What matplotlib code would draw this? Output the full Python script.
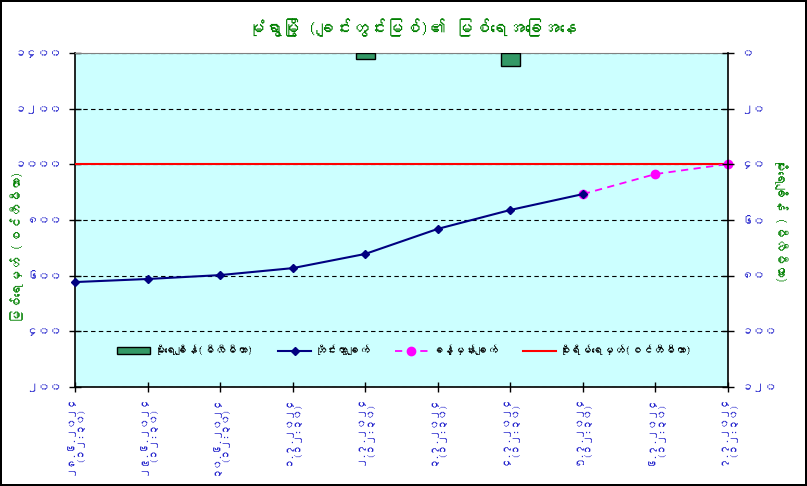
import matplotlib
matplotlib.use("Agg")
import matplotlib.pyplot as plt
import numpy as np
from matplotlib import font_manager
from matplotlib.ft2font import FT2Font
from matplotlib.lines import Line2D
from matplotlib.patches import Patch

# ── data ─────────────────────────────────────────────────────────────────────
DATES = ["၂၈.၆.၂၀၂၄", "၂၉.၆.၂၀၂၄", "၃၀.၆.၂၀၂၄", "၁.၇.၂၀၂၄", "၂.၇.၂၀၂၄",
         "၃.၇.၂၀၂၄", "၄.၇.၂၀၂၄", "၅.၇.၂၀၂၄", "၆.၇.၂၀၂၄", "၇.၇.၂၀၂၄"]
TIME_LABEL = "(၁၂:၃၀)"

observed = [577, 588, 602, 627, 678, 768, 836, 893, None, None]   # cm
forecast = [None, None, None, None, None, None, None, 893, 965, 1001]
rainfall = [0, 0, 0, 0, 2.2, 0, 4.5, 0, 0, 0]                      # mm
DANGER = 1000

LEFT_TICKS = [200, 400, 600, 800, 1000, 1200, 1400]
LEFT_TICK_LABELS = ["၂၀၀", "၄၀၀", "၆၀၀", "၈၀၀", "၁၀၀၀", "၁၂၀၀", "၁၄၀၀"]
RIGHT_TICKS = [0, 20, 40, 60, 80, 100, 120]
RIGHT_TICK_LABELS = ["၀", "၂၀", "၄၀", "၆၀", "၈၀", "၁၀၀", "၁၂၀"]

TITLE = "မုံရွာမြို့ (ချင်းတွင်းမြစ်)၏ မြစ်ရေအခြေအနေ"
LEFT_LABEL = "မြစ်ရေမှတ် (စင်တီမီတာ)"
RIGHT_LABEL = "မိုးရေချိန် (မီလီမီတာ)"
LEGEND_LABELS = ["မိုးရေချိန်(မီလီမီတာ)", "တိုင်းထွာချက်", "ခန့်မှန်းချက်",
                 "စိုးရိမ်ရေမှတ်(စင်တီမီတာ)"]

# ── fonts: use any installed font that has Myanmar glyphs ───────────────────
def find_myanmar_font():
    for f in font_manager.fontManager.ttflist:
        try:
            cmap = FT2Font(f.fname).get_charmap()
        except Exception:
            continue
        if 0x1019 in cmap and 0x1000 in cmap:
            return f.name
    return None

mm_font = find_myanmar_font()
FAMILY = [mm_font, "DejaVu Sans"] if mm_font else ["DejaVu Sans"]
plt.rcParams["font.family"] = FAMILY

BLUE = "#2222CC"
GREEN = "#008000"

# ── figure ───────────────────────────────────────────────────────────────────
fig = plt.figure(figsize=(8.07, 4.86), dpi=100)
fig.patch.set_facecolor("white")
fig.patch.set_edgecolor("black")
fig.patch.set_linewidth(1.5)

ax = fig.add_axes([0.0929, 0.2037, 0.8092, 0.6873])
ax.set_facecolor("#CCFFFF")
x = np.arange(len(DATES))

ax.set_xlim(0, len(DATES) - 1)
ax.set_ylim(200, 1400)
ax.set_yticks(LEFT_TICKS)
ax.set_yticklabels(LEFT_TICK_LABELS, color=BLUE, fontsize=8.5,
                   fontweight="bold")
ax.yaxis.grid(True, color="black", linestyle=(0, (4, 3)), linewidth=0.8)
ax.set_axisbelow(True)

ax.axhline(DANGER, color="#FF0000", linewidth=1.5, zorder=3)

obs = np.array([np.nan if v is None else v for v in observed], dtype=float)
fc = np.array([np.nan if v is None else v for v in forecast], dtype=float)
ax.plot(x, fc, color="#FF00FF", linestyle=(0, (4, 3)), linewidth=1.3,
        marker="o", markersize=6, zorder=4, clip_on=False)
ax.plot(x, obs, color="#000080", linewidth=1.5, marker="D", markersize=4.5,
        zorder=5, clip_on=False)

ax.set_xticks(x)
ax.set_xticklabels([f"{d}\n{TIME_LABEL}" for d in DATES], rotation=90,
                   color=BLUE, fontsize=7.2, fontweight="bold",
                   ha="center", va="top", linespacing=1.2)
ax.tick_params(axis="x", direction="inout", length=7, width=1, pad=2)
ax.tick_params(axis="y", direction="inout", length=9, width=1, pad=5)

for side in ["left", "bottom"]:
    ax.spines[side].set_color("black")
    ax.spines[side].set_linewidth(1.2)
ax.spines["top"].set_color("#808080")
ax.spines["right"].set_visible(False)

ax.set_ylabel(LEFT_LABEL, color=GREEN, fontsize=9.5, fontweight="bold")
ax.yaxis.set_label_coords(-0.078, 0.42)

# rainfall on inverted secondary axis
ax2 = ax.twinx()
ax2.set_ylim(120, 0)
ax2.set_yticks(RIGHT_TICKS)
ax2.set_yticklabels(RIGHT_TICK_LABELS, color=BLUE, fontsize=8.5,
                    fontweight="bold")
ax2.tick_params(axis="y", direction="inout", length=9, width=1, pad=5)
rain = np.array(rainfall, dtype=float)
has_rain = rain > 0
ax2.bar(x[has_rain], rain[has_rain], width=0.26, color="#339966",
        edgecolor="black", linewidth=1, zorder=2)
for side in ["left", "top", "bottom"]:
    ax2.spines[side].set_visible(False)
ax2.spines["right"].set_color("black")
ax2.spines["right"].set_linewidth(1.2)
ax2.set_ylabel(RIGHT_LABEL, color=GREEN, fontsize=9.5, fontweight="bold",
               rotation=-90, va="center")
ax2.yaxis.set_label_coords(1.081, 0.5)

handles = [
    Patch(facecolor="#339966", edgecolor="black"),
    Line2D([], [], color="#000080", linewidth=1.5, marker="D", markersize=4.5),
    Line2D([], [], color="#FF00FF", linestyle=(0, (4, 3)), linewidth=1.3,
           marker="o", markersize=6),
    Line2D([], [], color="#FF0000", linewidth=1.5),
]
leg = ax2.legend(handles, LEGEND_LABELS, loc="center", ncol=4,
                 bbox_to_anchor=(0.505, 0.111), frameon=False, fontsize=8,
                 handlelength=3.0, columnspacing=2.2, handletextpad=0.3)
for t in leg.get_texts():
    t.set_fontweight("bold")

fig.text(0.51, 0.944, TITLE, color=GREEN, fontsize=12.5, fontweight="bold",
         ha="center", va="center")

fig.savefig("out.png", dpi=100)
